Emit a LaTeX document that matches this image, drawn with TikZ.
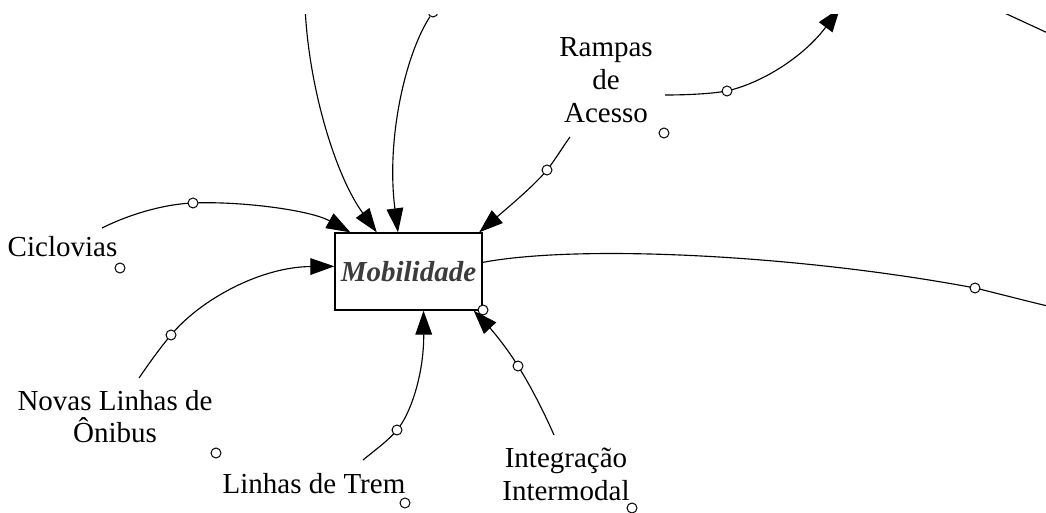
\documentclass[tikz,border=0pt]{standalone}
\usepackage{fontspec}
\setmainfont{Liberation Serif}
\usetikzlibrary{arrows.meta}
\definecolor{mobgray}{HTML}{3C3C3C}
\begin{document}
\begin{tikzpicture}[x=0.75pt,y=-0.75pt,
  lbl/.style={font=\fontsize{21.75}{24.4}\selectfont, inner sep=0pt, outer sep=0pt, align=center},
  boxst/.style={draw, line width=1pt, minimum width=110.25pt, minimum height=57.75pt, inner sep=0pt,
    font=\fontsize{21.75}{24.4}\selectfont\bfseries\itshape, text=mobgray},
  link/.style={line width=0.85pt, -{Triangle[length=18pt,width=12.5pt]}},
  plainlink/.style={line width=0.85pt},
  hnd/.style={circle, draw, fill=white, line width=0.75pt, minimum size=7.5pt, inner sep=0pt}]
\useasboundingbox (0,0) rectangle (1046,513);
\begin{scope}
\clip (0,15) rectangle (1046,513);
% main box
\node[boxst] (box) at (408.5,271.5) {Mobilidade};
% labels
\node[lbl, anchor=base] (ciclo) at (62.5,257) {Ciclovias};
\node[lbl, anchor=north] (novas) at (115,390) {Novas Linhas de\\Ônibus};
\node[lbl, anchor=base] (trem) at (314,493) {Linhas de Trem};
\node[lbl, anchor=north] (integ) at (566,448) {Integração\\Intermodal};
\node[lbl, anchor=north] (rampas) at (606,38) {Rampas\\de\\Acesso};
% free ends and handle points
\coordinate (t1s) at (305,5);
\coordinate (cs) at (102,228);
\coordinate (ns) at (139,378);
\coordinate (ts) at (363,460);
\coordinate (is) at (554,435);
\coordinate (rs) at (570,137);
\coordinate (ros) at (665,95);
\coordinate (roe) at (840,8);
\coordinate (tr1) at (998,10);
\coordinate (tr2) at (1052,35);
\coordinate (me) at (1052,307);
\coordinate (hc) at (193,203);
\coordinate (hn) at (171,335);
\coordinate (ht) at (397,430);
\coordinate (hi) at (518,366);
\coordinate (hr) at (547,170);
\coordinate (hro) at (727,91);
\coordinate (hm) at (975,288);
\node[hnd] (top2) at (433,12) {};
% connectors
\draw[link] (t1s) .. controls (308,85) and (335,175) .. (box.129);
\draw[link] (top2) .. controls (405,55) and (386,140) .. (box.105);
\draw[link] (cs) .. controls (130,214) and (165,204) .. (hc) .. controls (240,201) and (310,210) .. (box.146);
\draw[link] (ns) .. controls (150,362) and (160,348) .. (hn) .. controls (200,300) and (260,267) .. (box.176);
\draw[link] (ts) .. controls (375,450) and (388,441) .. (ht) .. controls (410,415) and (424,375) .. (box.291);
\draw[link] (is) .. controls (543,410) and (530,385) .. (hi) .. controls (505,345) and (490,328) .. (box.329);
\draw[link] (rs) .. controls (562,148) and (555,160) .. (hr) .. controls (535,185) and (505,210) .. (box.29);
\draw[link] (ros) .. controls (685,95) and (710,94) .. (hro) .. controls (765,82) and (805,55) .. (roe);
\draw[plainlink] (box.7) .. controls (580,244) and (800,255) .. (hm) .. controls (1000,294) and (1030,302) .. (me);
\draw[plainlink] (tr1) -- (tr2);
% handle circles
\node[hnd] (hcc) at (hc) {};
\node[hnd] (hnc) at (hn) {};
\node[hnd] (htc) at (ht) {};
\node[hnd] (hic) at (hi) {};
\node[hnd] (hrc) at (hr) {};
\node[hnd] (hroc) at (hro) {};
\node[hnd] (hmc) at (hm) {};
% loose circles
\node[hnd] (cc) at (120,268) {};
\node[hnd] (nc) at (216,453) {};
\node[hnd] (tc) at (405,503) {};
\node[hnd] (ic) at (632,508) {};
\node[hnd] (rc) at (664,133) {};
\node[hnd] (bc) at (483,310) {};
\end{scope}
\end{tikzpicture}
\end{document}
